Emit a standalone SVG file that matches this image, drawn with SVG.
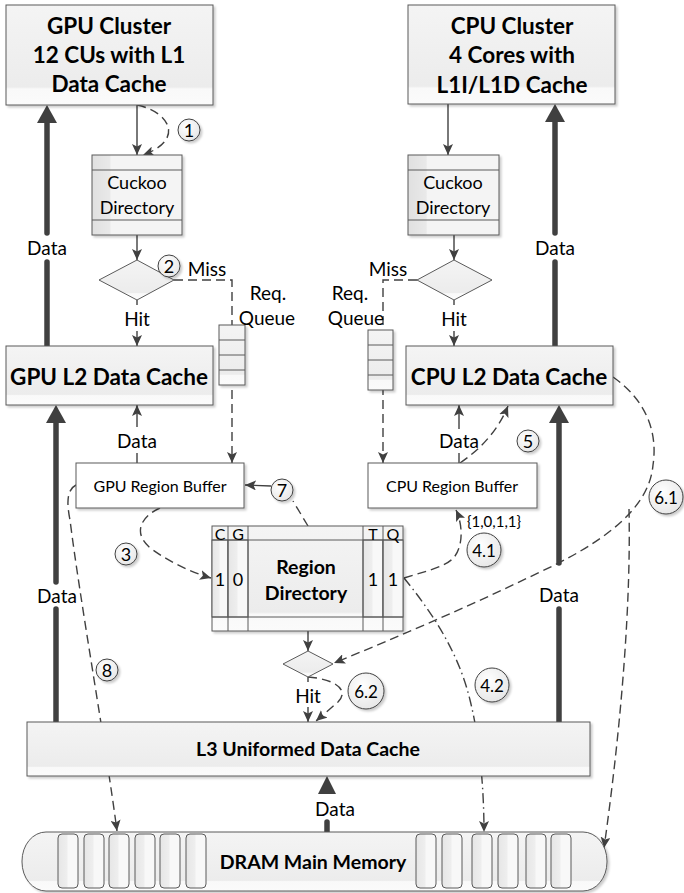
<svg xmlns="http://www.w3.org/2000/svg" width="684" height="893" viewBox="0 0 684 893">
<defs>
  <linearGradient id="gBox" x1="0" y1="0" x2="0" y2="1">
    <stop offset="0" stop-color="#f4f4f4"/>
    <stop offset="0.82" stop-color="#ececec"/>
    <stop offset="0.84" stop-color="#f9f9f9"/>
    <stop offset="1" stop-color="#fbfbfb"/>
  </linearGradient>
  <linearGradient id="gSide" x1="0" y1="0" x2="1" y2="0">
    <stop offset="0" stop-color="#e0e0e0"/>
    <stop offset="0.2" stop-color="#e9e9e9"/>
    <stop offset="0.21" stop-color="#f4f4f4"/>
    <stop offset="1" stop-color="#f4f4f4"/>
  </linearGradient>
  <linearGradient id="gCell" x1="0" y1="0" x2="1" y2="0">
    <stop offset="0" stop-color="#e6e6e6"/>
    <stop offset="0.45" stop-color="#eeeeee"/>
    <stop offset="0.5" stop-color="#f8f8f8"/>
    <stop offset="1" stop-color="#f8f8f8"/>
  </linearGradient>
  <radialGradient id="gCirc" cx="0.4" cy="0.35" r="0.75">
    <stop offset="0" stop-color="#ffffff"/>
    <stop offset="1" stop-color="#e4e4e4"/>
  </radialGradient>
  <filter id="sh" x="-10%" y="-10%" width="130%" height="140%">
    <feDropShadow dx="2" dy="2" stdDeviation="1.2" flood-color="#000" flood-opacity="0.2"/>
  </filter>
  <marker id="ah" markerUnits="userSpaceOnUse" markerWidth="12" markerHeight="10" refX="11" refY="5" orient="auto">
    <path d="M0,0 L11,5 L0,10 L2.5,5 z" fill="#404040"/>
  </marker>
</defs>
<style>
  .box{fill:url(#gBox);stroke:#5a5a5a;stroke-width:1;filter:url(#sh)}
  .side{fill:url(#gSide);stroke:#5a5a5a;stroke-width:1;filter:url(#sh)}
  .sep{stroke:#5a5a5a;stroke-width:1;fill:none}
  .ln{fill:none;stroke:#404040;stroke-width:1.4}
  .dash{stroke-dasharray:9 5}
  .dd{stroke-dasharray:10 4 1.5 4}
  .arr{marker-end:url(#ah)}
  .thick{stroke:#404040;stroke-width:5.5;stroke-linecap:round;fill:none}
  .head{fill:#404040}
  .circ{fill:url(#gCirc);stroke:#404040;stroke-width:1;filter:url(#sh)}
  .dia{fill:url(#gBox);stroke:#5a5a5a;stroke-width:1}
  .cell{fill:url(#gCell);stroke:#5a5a5a;stroke-width:1}
  text{font-family:Lato,"Liberation Sans",sans-serif;fill:#000;text-anchor:middle;dominant-baseline:central}
  .t1{font-weight:bold;font-size:22.5px}
  .t2{font-weight:bold;font-size:19.5px}
  .lb{font-size:19px}
  .md{font-size:18px}
  .sm{font-size:16px}
  .xs{font-size:15px}
  .num{font-size:18px}
  .dec{font-size:17px}
</style>

<!-- connectors -->
<g id="connectors">
  <!-- GPU side -->
  <line class="ln arr" x1="137" y1="105" x2="137" y2="155"/>
  <path class="ln dash arr" d="M137,105 C170,112 185,140 143,155"/>
  <line class="ln arr" x1="137" y1="235" x2="137" y2="260"/>
  <line class="ln" x1="137" y1="300" x2="137" y2="305"/>
  <line class="ln arr" x1="137" y1="331" x2="137" y2="346"/>
  <path class="ln dash arr" d="M174,280 H232 V463"/>
  <line class="ln arr" x1="137" y1="427" x2="137" y2="405"/>
  <line class="ln" x1="137" y1="453" x2="137" y2="463"/>
  <!-- CPU side -->
  <line class="ln arr" x1="448" y1="104" x2="448" y2="155"/>
  <line class="ln arr" x1="454" y1="235" x2="454" y2="260"/>
  <line class="ln" x1="454" y1="300" x2="454" y2="305"/>
  <line class="ln arr" x1="454" y1="331" x2="454" y2="346"/>
  <path class="ln dash arr" d="M417,280 H383 V463"/>
  <line class="ln arr" x1="459" y1="429" x2="459" y2="405"/>
  <line class="ln" x1="459" y1="453" x2="459" y2="463"/>
  <path class="ln dash arr" d="M460,463 Q494,440 508,406"/>

  <!-- thick data paths -->
  <line class="thick" x1="47" y1="122" x2="47" y2="233"/>
  <line class="thick" x1="47" y1="262" x2="47" y2="346"/>
  <polygon class="head" points="47,105 57,123 37,123"/>
  <line class="thick" x1="555" y1="122" x2="555" y2="233"/>
  <line class="thick" x1="555" y1="262" x2="555" y2="346"/>
  <polygon class="head" points="555,104 565,122 545,122"/>
  <line class="thick" x1="56" y1="422" x2="56" y2="582"/>
  <line class="thick" x1="56" y1="609" x2="56" y2="722"/>
  <polygon class="head" points="56,405 66,423 46,423"/>
  <line class="thick" x1="559" y1="422" x2="559" y2="563"/>
  <line class="thick" x1="559" y1="609" x2="559" y2="722"/>
  <polygon class="head" points="559,405 569,423 549,423"/>
  <polygon class="head" points="327,776 336,794 318,794"/>
  <line class="thick" x1="327" y1="822" x2="327" y2="832"/>

  <!-- region buffer / directory traffic -->
  <path class="ln dash arr" d="M160,508 C138,518 133,536 153,550 C170,562 190,572 211,578"/>
  <path class="ln dash" d="M308,526 L293,501"/>
  <line class="ln arr" x1="271" y1="486" x2="245" y2="485"/>
  <path class="ln dash arr" d="M404,578 C430,570 448,566 455,556 C463,545 463,525 456,510"/>
  <path class="ln dd arr" d="M404,578 C430,610 458,650 470,700 C480,740 484,790 484,832"/>
  <path class="ln dash arr" d="M76,485 C66,490 67,505 70,520 C80,600 105,740 117,831"/>

  <!-- write-back and L3 paths -->
  <path class="ln dash arr" d="M613,377 C646,400 658,432 653,465 C650,500 620,535 540,572 C470,606 400,636 334,663"/>
  <path class="ln dash arr" d="M629,509 C631,600 622,720 604,848"/>
  <line class="ln arr" x1="308" y1="631" x2="308" y2="651"/>
  <line class="ln" x1="308" y1="677" x2="308" y2="682"/>
  <line class="ln arr" x1="308" y1="707" x2="308" y2="722"/>
  <path class="ln dash arr" d="M308,677 C335,679 350,690 338,702 L316,721"/>
</g>

<!-- GPU cluster -->
<g id="gpu-cluster">
  <rect class="box" x="6" y="5" width="207" height="100"/>
  <text class="t1" x="109" y="25">GPU Cluster</text>
  <text class="t1" x="109" y="54">12 CUs with L1</text>
  <text class="t1" x="109" y="83">Data Cache</text>
</g>

<!-- CPU cluster -->
<g id="cpu-cluster">
  <rect class="box" x="408" y="5" width="207" height="99"/>
  <text class="t1" x="512" y="25">CPU Cluster</text>
  <text class="t1" x="512" y="54">4 Cores with</text>
  <text class="t1" x="512" y="84">L1I/L1D Cache</text>
</g>

<!-- cuckoo directories -->
<g id="gpu-cuckoo">
  <rect class="side" x="92" y="155" width="90" height="80"/>
  <line class="sep" x1="92" y1="170" x2="182" y2="170"/>
  <line class="sep" x1="92" y1="220" x2="182" y2="220"/>
  <text class="md" x="137" y="182">Cuckoo</text>
  <text class="md" x="137" y="207">Directory</text>
</g>
<g id="cpu-cuckoo">
  <rect class="side" x="408" y="155" width="91" height="80"/>
  <line class="sep" x1="408" y1="170" x2="499" y2="170"/>
  <line class="sep" x1="408" y1="220" x2="499" y2="220"/>
  <text class="md" x="453" y="182">Cuckoo</text>
  <text class="md" x="453" y="207">Directory</text>
</g>

<!-- hit/miss decisions -->
<g id="gpu-decision">
  <polygon class="dia" points="137,260 174,280 137,300 99,280"/>
</g>
<g id="cpu-decision">
  <polygon class="dia" points="454,260 492,280 454,300 417,280"/>
</g>

<!-- request queues -->
<g id="gpu-queue">
  <rect class="box" x="219" y="325" width="26" height="60"/>
  <line class="sep" x1="219" y1="340" x2="245" y2="340"/>
  <line class="sep" x1="219" y1="355" x2="245" y2="355"/>
  <line class="sep" x1="219" y1="370" x2="245" y2="370"/>
</g>
<g id="cpu-queue">
  <rect class="box" x="368" y="330" width="25" height="60"/>
  <line class="sep" x1="368" y1="345" x2="393" y2="345"/>
  <line class="sep" x1="368" y1="360" x2="393" y2="360"/>
  <line class="sep" x1="368" y1="375" x2="393" y2="375"/>
</g>

<!-- L2 caches -->
<g id="gpu-l2">
  <rect class="box" x="6" y="346" width="207" height="59"/>
  <text class="t1" x="109" y="376">GPU L2 Data Cache</text>
</g>
<g id="cpu-l2">
  <rect class="box" x="406" y="346" width="207" height="59"/>
  <text class="t1" x="509" y="376">CPU L2 Data Cache</text>
</g>

<!-- region buffers -->
<g id="gpu-region-buffer">
  <rect x="76" y="463" width="168" height="45" fill="#ffffff" stroke="#5a5a5a" filter="url(#sh)"/>
  <text class="sm" x="160" y="485">GPU Region Buffer</text>
</g>
<g id="cpu-region-buffer">
  <rect x="368" y="463" width="169" height="45" fill="#ffffff" stroke="#5a5a5a" filter="url(#sh)"/>
  <text class="sm" x="452" y="485">CPU Region Buffer</text>
</g>

<!-- region directory -->
<g id="region-directory">
  <rect class="box" x="212" y="526" width="191" height="105"/>
  <rect class="cell" x="212" y="540" width="16" height="77"/>
  <rect class="cell" x="228" y="540" width="20" height="77"/>
  <rect class="cell" x="363" y="540" width="20" height="77"/>
  <rect class="cell" x="383" y="540" width="20" height="77"/>
  <line class="sep" x1="212" y1="540" x2="403" y2="540"/>
  <line class="sep" x1="212" y1="617" x2="403" y2="617"/>
  <line class="sep" x1="228" y1="526" x2="228" y2="631"/>
  <line class="sep" x1="248" y1="526" x2="248" y2="631"/>
  <line class="sep" x1="363" y1="526" x2="363" y2="631"/>
  <line class="sep" x1="383" y1="526" x2="383" y2="631"/>
  <text class="sm" x="220" y="533">C</text>
  <text class="sm" x="238" y="533">G</text>
  <text class="sm" x="373" y="533">T</text>
  <text class="sm" x="393" y="533">Q</text>
  <text class="md" x="220" y="579">1</text>
  <text class="md" x="238" y="579">0</text>
  <text class="md" x="373" y="579">1</text>
  <text class="md" x="393" y="579">1</text>
  <text class="t2" x="306" y="566">Region</text>
  <text class="t2" x="306" y="592">Directory</text>
</g>

<!-- L3 lookup -->
<g id="l3-decision">
  <polygon class="dia" points="308,651 333,664 308,677 283,664"/>
</g>

<!-- L3 cache -->
<g id="l3-cache">
  <rect class="box" x="27" y="722" width="563" height="54"/>
  <text class="t2" x="308" y="748">L3 Uniformed Data Cache</text>
</g>

<!-- DRAM -->
<g id="dram">
  <rect class="box" x="22" y="832" width="585" height="59" rx="24" ry="29"/>
  <g class="cell">
    <rect x="58" y="834" width="20" height="54" rx="4"/>
    <rect x="84" y="834" width="20" height="54" rx="4"/>
    <rect x="109" y="834" width="20" height="54" rx="4"/>
    <rect x="135" y="834" width="20" height="54" rx="4"/>
    <rect x="160" y="834" width="20" height="54" rx="4"/>
    <rect x="186" y="834" width="20" height="54" rx="4"/>
    <rect x="416" y="834" width="20" height="54" rx="4"/>
    <rect x="442" y="834" width="20" height="54" rx="4"/>
    <rect x="472" y="834" width="20" height="54" rx="4"/>
    <rect x="498" y="834" width="20" height="54" rx="4"/>
    <rect x="526" y="834" width="20" height="54" rx="4"/>
    <rect x="551" y="834" width="20" height="54" rx="4"/>
  </g>
  <text class="t2" x="313" y="861">DRAM Main Memory</text>
</g>

<!-- connector labels -->
<g id="labels">
  <text class="lb" x="47" y="247">Data</text>
  <text class="lb" x="555" y="247">Data</text>
  <text class="lb" x="207" y="268">Miss</text>
  <text class="lb" x="388" y="268">Miss</text>
  <text class="lb" x="268" y="292">Req.</text>
  <text class="lb" x="267" y="317">Queue</text>
  <text class="lb" x="350" y="292">Req.</text>
  <text class="lb" x="356" y="317">Queue</text>
  <text class="lb" x="137" y="318">Hit</text>
  <text class="lb" x="454" y="318">Hit</text>
  <text class="lb" x="137" y="440">Data</text>
  <text class="lb" x="459" y="440">Data</text>
  <text class="lb" x="57" y="595">Data</text>
  <text class="lb" x="559" y="594">Data</text>
  <text class="lb" x="308" y="695">Hit</text>
  <text class="lb" x="335" y="808">Data</text>
  <text class="xs" x="494" y="521">{1,0,1,1}</text>

  <circle class="circ" cx="189" cy="130" r="11"/><text class="num" x="189" y="130">1</text>
  <circle class="circ" cx="169" cy="266" r="11"/><text class="num" x="169" y="266">2</text>
  <circle class="circ" cx="126" cy="554" r="11"/><text class="num" x="126" y="554">3</text>
  <circle class="circ" cx="528" cy="441" r="11"/><text class="num" x="528" y="441">5</text>
  <circle class="circ" cx="282" cy="490" r="11"/><text class="num" x="282" y="490">7</text>
  <circle class="circ" cx="107" cy="670" r="11"/><text class="num" x="107" y="670">8</text>
  <circle class="circ" cx="484" cy="550" r="17"/><text class="dec" x="484" y="550">4.1</text>
  <circle class="circ" cx="492" cy="685" r="17"/><text class="dec" x="492" y="685">4.2</text>
  <circle class="circ" cx="666" cy="497" r="17"/><text class="dec" x="666" y="497">6.1</text>
  <circle class="circ" cx="366" cy="691" r="18"/><text class="dec" x="366" y="691">6.2</text>
</g>
</svg>
